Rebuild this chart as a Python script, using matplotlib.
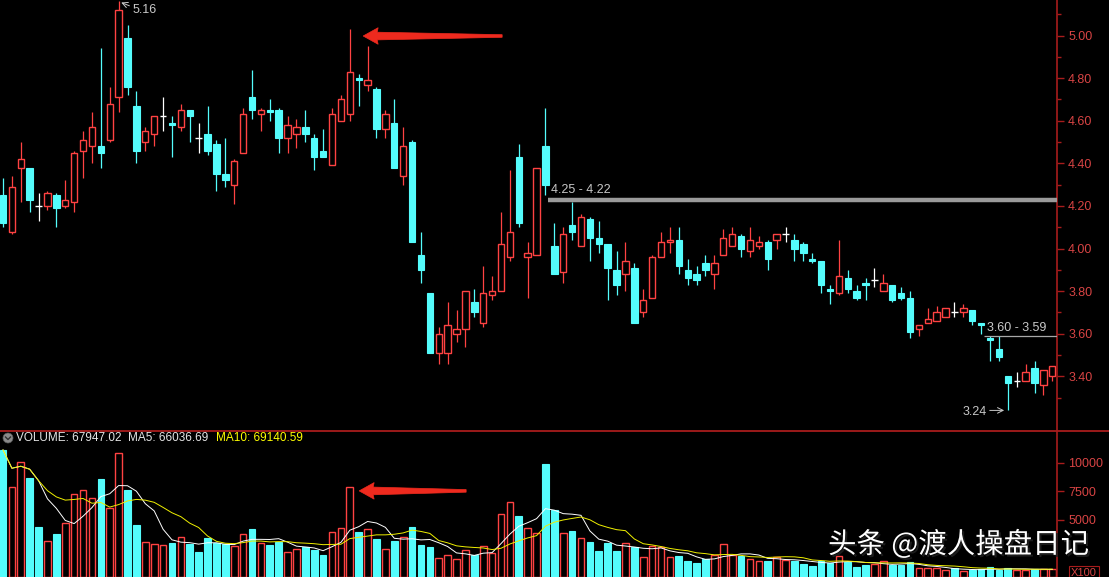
import numpy as np
import pandas as pd
import matplotlib as mpl
mpl.use('Agg')
import matplotlib.pyplot as plt
from matplotlib.patches import Polygon, Circle
from matplotlib.lines import Line2D
from matplotlib.transforms import IdentityTransform
import matplotlib.patheffects as pe

# daily candles (price in yuan)
opens = [4.25, 4.08, 4.38, 4.38, 4.20, 4.20, 4.25, 4.20, 4.22, 4.46,
         4.48, 4.48, 4.51, 4.71, 4.99, 4.67, 4.50, 4.54, 4.62, 4.59,
         4.57, 4.65, 4.52, 4.54, 4.49, 4.35, 4.30, 4.45, 4.71, 4.63,
         4.65, 4.65, 4.52, 4.54, 4.57, 4.52, 4.46, 4.39, 4.60, 4.63,
         4.80, 4.77, 4.75, 4.56, 4.59, 4.34, 4.50, 3.97, 3.79, 3.51,
         3.51, 3.60, 3.62, 3.75, 3.65, 3.78, 3.80, 3.96, 4.43, 3.96,
         3.97, 4.48, 4.01, 3.89, 4.11, 4.01, 4.14, 4.05, 4.02, 3.90,
         3.88, 3.91, 3.70, 3.77, 3.96, 4.03, 4.04, 3.90, 3.88, 3.93,
         3.88, 3.97, 4.01, 4.06, 3.99, 4.01, 4.03, 4.04, 4.07, 4.04,
         4.02, 3.95, 3.94, 3.81, 3.79, 3.86, 3.80, 3.84, 3.85, 3.80,
         3.83, 3.79, 3.77, 3.62, 3.65, 3.66, 3.68, 3.70, 3.70, 3.71,
         3.65, 3.58, 3.53, 3.40, 3.38, 3.38, 3.44, 3.36, 3.40]
highs = [4.33, 4.34, 4.50, 4.38, 4.26, 4.27, 4.26, 4.32, 4.46, 4.55,
         4.64, 4.94, 4.76, 5.16, 5.05, 4.74, 4.57, 4.62, 4.71, 4.62,
         4.68, 4.65, 4.59, 4.67, 4.51, 4.52, 4.42, 4.66, 4.84, 4.66,
         4.70, 4.66, 4.62, 4.61, 4.65, 4.54, 4.56, 4.66, 4.72, 5.03,
         4.82, 4.95, 4.76, 4.65, 4.70, 4.57, 4.51, 4.08, 3.79, 3.63,
         3.75, 3.71, 3.80, 3.81, 3.92, 3.87, 4.17, 4.37, 4.49, 4.03,
         4.38, 4.66, 4.12, 4.10, 4.22, 4.16, 4.15, 4.13, 4.02, 3.99,
         4.03, 3.93, 3.81, 3.97, 4.08, 4.10, 4.10, 3.95, 3.92, 3.97,
         3.97, 4.09, 4.10, 4.07, 4.10, 4.06, 4.04, 4.07, 4.10, 4.07,
         4.03, 3.98, 3.94, 3.83, 4.04, 3.90, 3.83, 3.86, 3.91, 3.88,
         3.83, 3.82, 3.80, 3.64, 3.72, 3.73, 3.72, 3.75, 3.74, 3.71,
         3.65, 3.59, 3.59, 3.40, 3.42, 3.46, 3.47, 3.43, 3.45]
lows = [4.10, 4.07, 4.22, 4.17, 4.13, 4.18, 4.10, 4.19, 4.17, 4.33,
        4.40, 4.38, 4.50, 4.64, 4.72, 4.40, 4.46, 4.48, 4.55, 4.43,
        4.55, 4.50, 4.45, 4.44, 4.27, 4.29, 4.21, 4.45, 4.61, 4.55,
        4.60, 4.45, 4.45, 4.47, 4.50, 4.37, 4.43, 4.39, 4.60, 4.60,
        4.67, 4.74, 4.52, 4.52, 4.38, 4.30, 4.03, 3.84, 3.51, 3.46,
        3.46, 3.56, 3.54, 3.68, 3.63, 3.76, 3.80, 3.94, 4.10, 3.77,
        3.97, 4.25, 3.88, 3.84, 4.04, 4.01, 3.94, 3.98, 3.76, 3.78,
        3.80, 3.65, 3.68, 3.77, 3.96, 3.98, 3.88, 3.83, 3.83, 3.87,
        3.81, 3.97, 4.01, 3.96, 3.96, 4.00, 3.90, 4.00, 4.03, 3.94,
        3.94, 3.93, 3.79, 3.74, 3.78, 3.79, 3.76, 3.76, 3.82, 3.80,
        3.75, 3.76, 3.58, 3.59, 3.65, 3.66, 3.68, 3.68, 3.68, 3.64,
        3.60, 3.47, 3.47, 3.24, 3.35, 3.38, 3.32, 3.31, 3.38]
closes = [4.12, 4.29, 4.42, 4.23, 4.20, 4.26, 4.19, 4.23, 4.45, 4.51,
          4.57, 4.45, 4.68, 5.12, 4.76, 4.46, 4.55, 4.62, 4.62, 4.58,
          4.65, 4.62, 4.52, 4.46, 4.35, 4.32, 4.41, 4.63, 4.65, 4.65,
          4.64, 4.52, 4.58, 4.57, 4.54, 4.43, 4.43, 4.63, 4.70, 4.83,
          4.79, 4.79, 4.56, 4.63, 4.38, 4.48, 4.03, 3.90, 3.51, 3.60,
          3.64, 3.62, 3.80, 3.70, 3.79, 3.80, 4.02, 4.08, 4.12, 3.98,
          4.38, 4.30, 3.88, 4.07, 4.08, 4.15, 4.05, 4.02, 3.91, 3.83,
          3.94, 3.65, 3.76, 3.96, 4.03, 4.04, 3.92, 3.86, 3.85, 3.90,
          3.93, 4.05, 4.07, 4.00, 4.04, 4.03, 3.95, 4.07, 4.07, 4.00,
          3.98, 3.94, 3.83, 3.80, 3.87, 3.81, 3.77, 3.83, 3.85, 3.84,
          3.76, 3.77, 3.61, 3.64, 3.67, 3.70, 3.72, 3.70, 3.72, 3.66,
          3.64, 3.57, 3.49, 3.37, 3.38, 3.42, 3.37, 3.43, 3.45]
# volume in units of 100 (axis shows X100)
volumes = [11140, 7930, 10060, 8660, 4420, 3190, 3750, 4770, 7280, 7660,
           6960, 8570, 6030, 10850, 7600, 4560, 3100, 2870, 2810, 2960,
           3540, 2870, 2230, 3400, 2960, 2870, 2750, 3750, 4180, 2960,
           2810, 3100, 2230, 2430, 2600, 2370, 1900, 3980, 4330, 7930,
           3920, 4180, 3310, 2430, 3130, 3540, 4360, 2810, 2600, 1700,
           1900, 1550, 2400, 1900, 2690, 2140, 5500, 6550, 5350, 4270,
           3900, 9890, 5880, 3830, 4040, 3400, 3040, 2280, 2960, 2280,
           3020, 2600, 1730, 2750, 2660, 1730, 1850, 1400, 1200, 1550,
           1930, 2870, 1930, 1850, 1550, 1430, 1400, 1790, 1490, 1430,
           1110, 970, 1400, 1200, 1850, 1350, 900, 1050, 1140, 1400,
           1050, 1050, 1290, 760, 760, 760, 620, 760, 530, 615,
           670, 900, 650, 780, 600, 650, 700, 670, 679]

price_ticks = [3.40, 3.60, 3.80, 4.00, 4.20, 4.40, 4.60, 4.80, 5.00]
volume_ticks = [5000, 7500, 10000]

RED = '#ff4242'
CYAN = '#54fcfc'
AXRED = '#a81c1c'
LBLRED = '#d84444'
GREY = '#c8c8c8'

o = np.array(opens); h = np.array(highs); l = np.array(lows); c = np.array(closes)
v = np.array(volumes, dtype=float)
x = np.arange(len(c))
up = c > o + 1e-9
down = c < o - 1e-9
doji = ~(up | down)
prev_c = np.r_[c[0], c[:-1]]
vol_up = up | (doji & (c >= prev_c - 1e-9))

W, H = 1109, 577
fig = plt.figure(figsize=(W / 100, H / 100), dpi=100, facecolor='black')
axw = 1057 / W
ax = fig.add_axes([0, 1 - 430 / H, axw, 430 / H], facecolor='black')
axv = fig.add_axes([0, 0, axw, 146 / H], facecolor='black')

xlim = (-0.34, 118.53)
for a in (ax, axv):
    a.set_xlim(*xlim)
    for s in ('top', 'left', 'bottom'):
        a.spines[s].set_visible(False)
    a.spines['right'].set_color(AXRED)
    a.spines['right'].set_linewidth(1.2)
    a.yaxis.tick_right()
    a.set_xticks([])
    a.tick_params(axis='y', which='both', colors=AXRED, labelcolor=LBLRED,
                  direction='out', width=1, pad=3, labelsize=9)
    a.tick_params(axis='y', which='major', length=5)
    a.tick_params(axis='y', which='minor', length=3)

# price panel
ax.set_ylim(3.148, 5.167)
ax.set_yticks(price_ticks)
ax.set_yticklabels(['%.2f' % t for t in price_ticks], family='Liberation Sans')
ax.set_yticks([t + 0.1 for t in [3.2] + price_ticks], minor=True)

wick_cols = np.where(up, RED, np.where(down, CYAN, 'white'))
ax.vlines(x, l, h, colors=wick_cols, lw=0.9, zorder=1)
bw = 0.72
ax.bar(x[up], (c - o)[up], bottom=o[up], width=bw, facecolor='black',
       edgecolor=RED, lw=1, zorder=2)
ax.bar(x[down], (o - c)[down], bottom=c[down], width=bw, facecolor=CYAN,
       edgecolor=CYAN, lw=0.8, zorder=2)
ax.hlines(c[doji], x[doji] - bw / 2, x[doji] + bw / 2, colors='white', lw=1, zorder=2)

# annotations in the price panel
imax = int(np.argmax(h))
ax.annotate('', xy=(imax, h[imax]), xytext=(imax + 1.5, h[imax] - 0.025),
            arrowprops=dict(arrowstyle='->', color=GREY, lw=0.7))
ax.text(imax + 1.6, h[imax] - 0.04, '%.2f' % h[imax], color=GREY, fontsize=9,
        family='Liberation Sans', va='center', ha='left')

ax.hlines(4.23, 61.3, xlim[1], colors='#9a9a9a', lw=3.2, zorder=3)
ax.text(61.6, 4.277, '4.25 - 4.22', color=GREY, fontsize=9,
        family='Liberation Sans', va='center', ha='left')

ax.hlines(3.591, 110.3, xlim[1], colors='#a8a8a8', lw=0.9, zorder=3)
ax.text(110.66, 3.627, '3.60 - 3.59', color=GREY, fontsize=9,
        family='Liberation Sans', va='center', ha='left')

imin = int(np.argmin(l))
ax.annotate('', xy=(imin - 0.1, l[imin]), xytext=(imin - 2.35, l[imin]),
            arrowprops=dict(arrowstyle='->', color=GREY, lw=0.7))
ax.text(imin - 2.35, l[imin] - 0.008, '%.2f' % l[imin], color=GREY, fontsize=9,
        family='Liberation Sans', va='center', ha='right')

# volume panel
axv.set_ylim(0, 12800)
axv.set_yticks(volume_ticks)
axv.set_yticklabels([str(t) for t in volume_ticks], family='Liberation Sans')
vw = 0.75
axv.bar(x[vol_up], v[vol_up], width=vw, facecolor='black', edgecolor=RED, lw=1, zorder=2)
axv.bar(x[~vol_up], v[~vol_up], width=vw, facecolor=CYAN, edgecolor=CYAN, lw=0.8, zorder=2)
ma5 = pd.Series(v).rolling(5, min_periods=1).mean()
ma10 = pd.Series(v).rolling(10, min_periods=1).mean()
axv.plot(x, ma5, color='white', lw=0.7, zorder=3)
axv.plot(x, ma10, color='#f0f000', lw=0.7, zorder=3)

# panel separator
fig.add_artist(Line2D([0, 1], [1 - 430.5 / H] * 2, color=AXRED, lw=1.3))

# volume title
fig.add_artist(Circle((8, H - 438), 5, transform=IdentityTransform(),
                      facecolor='#8a8a8a', edgecolor='#5a5a5a', lw=0.5))
fig.add_artist(Line2D([5.5, 8, 10.5], [H - 437, H - 439.5, H - 437],
                      transform=IdentityTransform(), color='#303030', lw=1))
fig.text(16 / W, 1 - 438 / H, 'VOLUME: 67947.02  MA5: 66036.69', color='#e6e6e6',
         fontsize=8.5, family='Liberation Sans', va='center', ha='left')
fig.text(216 / W, 1 - 438 / H, 'MA10: 69140.59', color='#ffff00',
         fontsize=8.5, family='Liberation Sans', va='center', ha='left')

fig.text(1084 / W, 1 - 572.5 / H, 'X100', color=LBLRED, fontsize=8,
         family='Liberation Sans', va='center', ha='center',
         bbox=dict(boxstyle='square,pad=0.15', facecolor='black', edgecolor=AXRED, lw=0.8))


# big red arrows pointing at the spike day
def red_arrow(axis, tip, length):
    tx, ty = axis.transData.transform(tip)
    shape = [(0, 0), (15, 8.3), (14, 3.8), (length, 1.3), (length, -1.3),
             (14, -3.9), (15, -8.3)]
    pts = [(tx + dx, ty + dy) for dx, dy in shape]
    fig.add_artist(Polygon(pts, closed=True, transform=IdentityTransform(),
                           facecolor='#ee2a1e', edgecolor='#ee2a1e', lw=0.5, zorder=10))


red_arrow(ax, (40.5, 4.998), 139)
red_arrow(axv, (40.05, 7550), 107)

# watermark
fig.text(828 / W, 1 - 545 / H, '头条 @渡人操盘日记', color='white', fontsize=20.5,
         family=['Noto Sans CJK SC', 'DejaVu Sans'], fontweight='medium',
         va='center', ha='left',
         path_effects=[pe.withSimplePatchShadow(offset=(1.5, -1.5), shadow_rgbFace='#202020', alpha=0.9)])

fig.savefig('out.png', dpi=100, facecolor='black')
